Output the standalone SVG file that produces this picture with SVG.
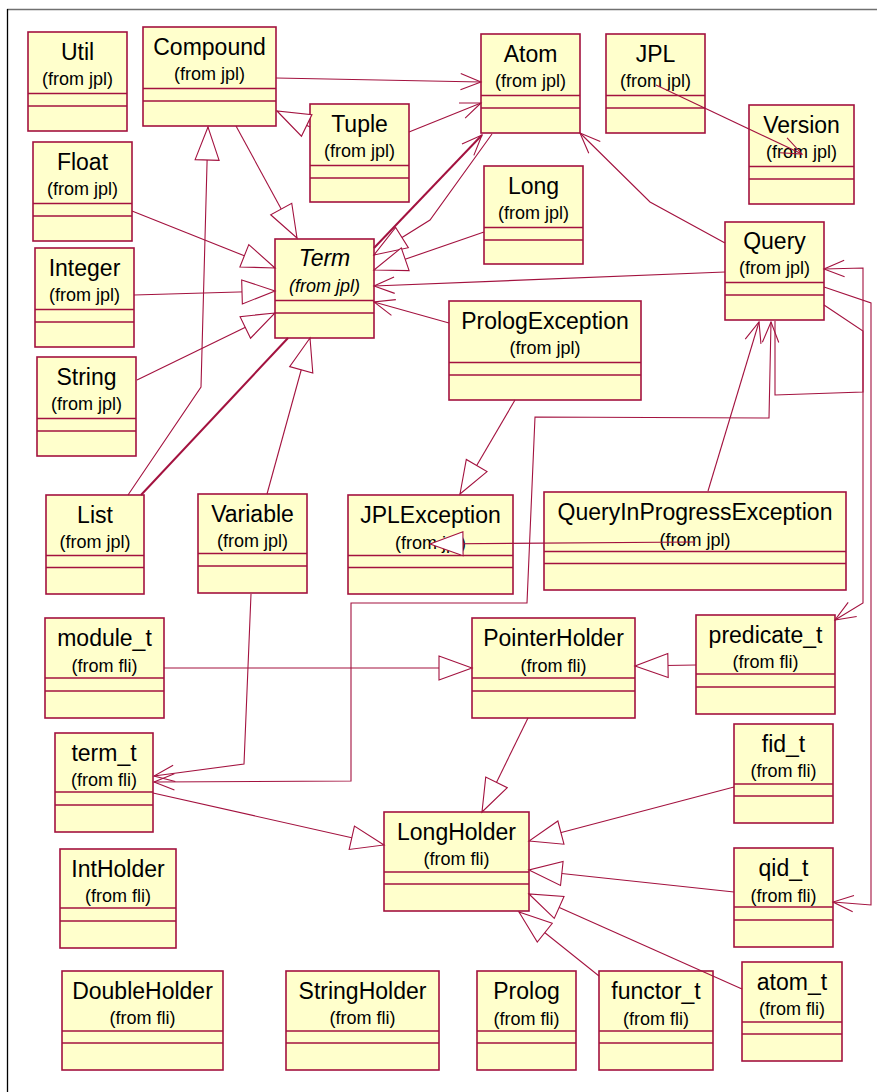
<svg xmlns="http://www.w3.org/2000/svg" width="877" height="1092" viewBox="0 0 877 1092">
  <style>
    .box rect { fill: #ffffcc; stroke: #a3123f; stroke-width: 1.6; }
    .box line { stroke: #a3123f; stroke-width: 1.3; }
    .box text { font-family: "Liberation Sans", Arial, sans-serif; fill: #000; text-anchor: middle; }
    .box .t { font-size: 23px; }
    .box .s { font-size: 18px; }
    .abstract text { font-style: italic; }
    #connectors path { fill: none; stroke: #a3123f; stroke-width: 1.1; }
    #connectors .gen { marker-end: url(#tri); }
    #connectors .assoc { marker-end: url(#open); }
    #connectors .both { marker-start: url(#open); marker-end: url(#open); }
    #connectors .heavy { stroke-width: 2; }
  </style>
  <defs>
    <!-- generalization: hollow triangle -->
    <marker id="tri" markerUnits="userSpaceOnUse" viewBox="-36 -15 38 30" markerWidth="38" markerHeight="30" refX="0" refY="0" orient="auto">
      <path d="M0,0 L-33,-12 L-33,12 Z" fill="#ffffff" stroke="#a3123f" stroke-width="1.1"/>
    </marker>
    <!-- navigable association: open arrowhead -->
    <marker id="open" markerUnits="userSpaceOnUse" viewBox="-24 -11 26 22" markerWidth="26" markerHeight="22" refX="0" refY="0" orient="auto-start-reverse">
      <path d="M-20.4,-8.2 L0,0 L-20.4,8.2" fill="none" stroke="#a3123f" stroke-width="1.1"/>
    </marker>
  </defs>

  <rect x="0" y="0" width="877" height="1092" fill="#ffffff"/>
  <!-- frame -->
  <line x1="7" y1="9.5" x2="877" y2="9.5" stroke="#707070" stroke-width="1.3"/>
  <line x1="7.5" y1="9" x2="7.5" y2="1092" stroke="#000000" stroke-width="1.3"/>

  <!-- classes: title at +27.5, package at +52.5, compartments at +61.5 / +74 -->
  <g id="Util" class="box" transform="translate(28,32)">
    <rect width="99" height="99"/><line x1="0" y1="61.5" x2="99" y2="61.5"/><line x1="0" y1="74" x2="99" y2="74"/>
    <text class="t" x="49.5" y="27.5">Util</text><text class="s" x="49.5" y="52.5">(from jpl)</text>
  </g>
  <g id="Compound" class="box" transform="translate(143,27)">
    <rect width="133" height="99"/><line x1="0" y1="61.5" x2="133" y2="61.5"/><line x1="0" y1="74" x2="133" y2="74"/>
    <text class="t" x="66.5" y="27.5">Compound</text><text class="s" x="66.5" y="52.5">(from jpl)</text>
  </g>
  <g id="Float" class="box" transform="translate(33,142)">
    <rect width="99" height="99"/><line x1="0" y1="61.5" x2="99" y2="61.5"/><line x1="0" y1="74" x2="99" y2="74"/>
    <text class="t" x="49.5" y="27.5">Float</text><text class="s" x="49.5" y="52.5">(from jpl)</text>
  </g>
  <g id="Integer" class="box" transform="translate(35,248)">
    <rect width="99" height="99"/><line x1="0" y1="61.5" x2="99" y2="61.5"/><line x1="0" y1="74" x2="99" y2="74"/>
    <text class="t" x="49.5" y="27.5">Integer</text><text class="s" x="49.5" y="52.5">(from jpl)</text>
  </g>
  <g id="String" class="box" transform="translate(37,357)">
    <rect width="99" height="99"/><line x1="0" y1="61.5" x2="99" y2="61.5"/><line x1="0" y1="74" x2="99" y2="74"/>
    <text class="t" x="49.5" y="27.5">String</text><text class="s" x="49.5" y="52.5">(from jpl)</text>
  </g>
  <g id="Atom" class="box" transform="translate(481,34)">
    <rect width="99" height="99"/><line x1="0" y1="61.5" x2="99" y2="61.5"/><line x1="0" y1="74" x2="99" y2="74"/>
    <text class="t" x="49.5" y="27.5">Atom</text><text class="s" x="49.5" y="52.5">(from jpl)</text>
  </g>
  <g id="Tuple" class="box" transform="translate(310,104)">
    <rect width="99" height="98"/><line x1="0" y1="61.5" x2="99" y2="61.5"/><line x1="0" y1="74" x2="99" y2="74"/>
    <text class="t" x="49.5" y="27.5">Tuple</text><text class="s" x="49.5" y="52.5">(from jpl)</text>
  </g>
  <g id="Long" class="box" transform="translate(484,166)">
    <rect width="99" height="98"/><line x1="0" y1="61.5" x2="99" y2="61.5"/><line x1="0" y1="74" x2="99" y2="74"/>
    <text class="t" x="49.5" y="27.5">Long</text><text class="s" x="49.5" y="52.5">(from jpl)</text>
  </g>
  <g id="JPL" class="box" transform="translate(606,34)">
    <rect width="99" height="99"/><line x1="0" y1="61.5" x2="99" y2="61.5"/><line x1="0" y1="74" x2="99" y2="74"/>
    <text class="t" x="49.5" y="27.5">JPL</text><text class="s" x="49.5" y="52.5">(from jpl)</text>
  </g>
  <g id="Version" class="box" transform="translate(749,105)">
    <rect width="105" height="99"/><line x1="0" y1="61.5" x2="105" y2="61.5"/><line x1="0" y1="74" x2="105" y2="74"/>
    <text class="t" x="52.5" y="27.5">Version</text><text class="s" x="52.5" y="52.5">(from jpl)</text>
  </g>
  <g id="Query" class="box" transform="translate(725,222)">
    <rect width="99" height="98"/><line x1="0" y1="60.5" x2="99" y2="60.5"/><line x1="0" y1="73" x2="99" y2="73"/>
    <text class="t" x="49.5" y="27">Query</text><text class="s" x="49.5" y="51.5">(from jpl)</text>
  </g>
  <g id="Term" class="box abstract" transform="translate(275,239)">
    <rect width="99" height="99"/><line x1="0" y1="61.5" x2="99" y2="61.5"/><line x1="0" y1="74" x2="99" y2="74"/>
    <text class="t" x="49.5" y="26.5">Term</text><text class="s" x="49.5" y="53">(from jpl)</text>
  </g>
  <g id="PrologException" class="box" transform="translate(449,301)">
    <rect width="192" height="99"/><line x1="0" y1="61.5" x2="192" y2="61.5"/><line x1="0" y1="74" x2="192" y2="74"/>
    <text class="t" x="96" y="27.5">PrologException</text><text class="s" x="96" y="52.5">(from jpl)</text>
  </g>
  <g id="List" class="box" transform="translate(46,495)">
    <rect width="98" height="99"/><line x1="0" y1="60.5" x2="98" y2="60.5"/><line x1="0" y1="72.5" x2="98" y2="72.5"/>
    <text class="t" x="49" y="27.5">List</text><text class="s" x="49" y="53">(from jpl)</text>
  </g>
  <g id="Variable" class="box" transform="translate(198,494)">
    <rect width="109" height="99"/><line x1="0" y1="59.5" x2="109" y2="59.5"/><line x1="0" y1="72" x2="109" y2="72"/>
    <text class="t" x="54.5" y="27.5">Variable</text><text class="s" x="54.5" y="53">(from jpl)</text>
  </g>
  <g id="JPLException" class="box" transform="translate(348,495)">
    <rect width="165" height="99"/><line x1="0" y1="60.5" x2="165" y2="60.5"/><line x1="0" y1="72.5" x2="165" y2="72.5"/>
    <text class="t" x="82.5" y="27.5">JPLException</text><text class="s" x="82.5" y="54">(from jpl)</text>
  </g>
  <g id="QueryInProgressException" class="box" transform="translate(544,492)">
    <rect width="302" height="98"/><line x1="0" y1="59.5" x2="302" y2="59.5"/><line x1="0" y1="71.5" x2="302" y2="71.5"/>
    <text class="t" x="151" y="27.5">QueryInProgressException</text><text class="s" x="151" y="54">(from jpl)</text>
  </g>
  <g id="module_t" class="box" transform="translate(45,618)">
    <rect width="119" height="100"/><line x1="0" y1="60" x2="119" y2="60"/><line x1="0" y1="73" x2="119" y2="73"/>
    <text class="t" x="59.5" y="28">module_t</text><text class="s" x="59.5" y="54">(from fli)</text>
  </g>
  <g id="PointerHolder" class="box" transform="translate(472,618)">
    <rect width="163" height="100"/><line x1="0" y1="60" x2="163" y2="60"/><line x1="0" y1="73" x2="163" y2="73"/>
    <text class="t" x="81.5" y="28">PointerHolder</text><text class="s" x="81.5" y="54">(from fli)</text>
  </g>
  <g id="predicate_t" class="box" transform="translate(696,615)">
    <rect width="139" height="99"/><line x1="0" y1="59" x2="139" y2="59"/><line x1="0" y1="72" x2="139" y2="72"/>
    <text class="t" x="69.5" y="28">predicate_t</text><text class="s" x="69.5" y="53">(from fli)</text>
  </g>
  <g id="term_t" class="box" transform="translate(55,733)">
    <rect width="98" height="99"/><line x1="0" y1="59" x2="98" y2="59"/><line x1="0" y1="72" x2="98" y2="72"/>
    <text class="t" x="49" y="27.5">term_t</text><text class="s" x="49" y="52.5">(from fli)</text>
  </g>
  <g id="fid_t" class="box" transform="translate(734,724)">
    <rect width="99" height="99"/><line x1="0" y1="60" x2="99" y2="60"/><line x1="0" y1="72" x2="99" y2="72"/>
    <text class="t" x="49.5" y="28">fid_t</text><text class="s" x="49.5" y="52.5">(from fli)</text>
  </g>
  <g id="LongHolder" class="box" transform="translate(384,812)">
    <rect width="145" height="99"/><line x1="0" y1="60" x2="145" y2="60"/><line x1="0" y1="72" x2="145" y2="72"/>
    <text class="t" x="72.5" y="28">LongHolder</text><text class="s" x="72.5" y="53">(from fli)</text>
  </g>
  <g id="qid_t" class="box" transform="translate(734,848)">
    <rect width="99" height="99"/><line x1="0" y1="59" x2="99" y2="59"/><line x1="0" y1="72" x2="99" y2="72"/>
    <text class="t" x="49.5" y="27.5">qid_t</text><text class="s" x="49.5" y="54">(from fli)</text>
  </g>
  <g id="IntHolder" class="box" transform="translate(60,849)">
    <rect width="116" height="99"/><line x1="0" y1="59" x2="116" y2="59"/><line x1="0" y1="72" x2="116" y2="72"/>
    <text class="t" x="58" y="27.5">IntHolder</text><text class="s" x="58" y="53">(from fli)</text>
  </g>
  <g id="DoubleHolder" class="box" transform="translate(62,971)">
    <rect width="161" height="99"/><line x1="0" y1="60" x2="161" y2="60"/><line x1="0" y1="72" x2="161" y2="72"/>
    <text class="t" x="80.5" y="27.5">DoubleHolder</text><text class="s" x="80.5" y="53">(from fli)</text>
  </g>
  <g id="StringHolder" class="box" transform="translate(286,971)">
    <rect width="153" height="99"/><line x1="0" y1="60" x2="153" y2="60"/><line x1="0" y1="72" x2="153" y2="72"/>
    <text class="t" x="76.5" y="27.5">StringHolder</text><text class="s" x="76.5" y="53">(from fli)</text>
  </g>
  <g id="Prolog" class="box" transform="translate(477,971)">
    <rect width="99" height="99"/><line x1="0" y1="60" x2="99" y2="60"/><line x1="0" y1="72" x2="99" y2="72"/>
    <text class="t" x="49.5" y="28">Prolog</text><text class="s" x="49.5" y="54">(from fli)</text>
  </g>
  <g id="functor_t" class="box" transform="translate(599,971)">
    <rect width="114" height="99"/><line x1="0" y1="60" x2="114" y2="60"/><line x1="0" y1="72" x2="114" y2="72"/>
    <text class="t" x="57" y="28">functor_t</text><text class="s" x="57" y="54">(from fli)</text>
  </g>
  <g id="atom_t" class="box" transform="translate(742,962)">
    <rect width="100" height="99"/><line x1="0" y1="60" x2="100" y2="60"/><line x1="0" y1="72" x2="100" y2="72"/>
    <text class="t" x="50" y="28">atom_t</text><text class="s" x="50" y="53">(from fli)</text>
  </g>

  <!-- relationships -->
  <g id="connectors">
    <path class="assoc" d="M276,78 L481,82"/>
    <path class="gen" d="M310,127 L277,111"/>
    <path class="assoc" d="M409,132 L481,103"/>
    <path class="gen" d="M236,126 L297,238"/>
    <path class="gen" d="M132,211 L275,268"/>
    <path class="gen" d="M134,295 L275,291"/>
    <path class="gen" d="M137,380 L275,313"/>
    <path class="gen" d="M128,495 L201,387 L208,127"/>
    <path class="heavy" d="M141,495 L288,338"/>
    <path class="gen" d="M267,494 L310,338"/>
    <path class="assoc heavy" d="M374,248 L482,135"/>
    <path class="gen" d="M492,134 L430,220 L374,255"/>
    <path class="gen" d="M484,232 L374,270"/>
    <path class="assoc" d="M725,243 L650,202 L580,133"/>
    <path class="assoc" d="M725,272 L374,286"/>
    <path class="assoc" d="M449,323 L374,302"/>
    <path class="gen" d="M515,400 L460,494"/>
    <path class="gen" d="M695,542 L430,544"/>
    <path class="assoc" d="M656,85 L802,154"/>
    <path class="assoc" d="M708,491 L759,322"/>
    <path class="assoc" d="M775,321 L775,395 L863,392 L863,268 L824,269"/>
    <path class="assoc" d="M824,305 L863,331 L863,603 L835,620"/>
    <path class="assoc" d="M824,287 L871,303 L871,905 L833,902"/>
    <path class="both" d="M154,782 L351,781 L351,603 L527,603 L535,417 L769,418 L771,322"/>
    <path class="assoc" d="M251,594 L244,764 L154,776"/>
    <path class="gen" d="M164,668 L472,668"/>
    <path class="gen" d="M696,665 L635,666"/>
    <path class="gen" d="M528,718 L482,812"/>
    <path class="gen" d="M153,793 L384,845"/>
    <path class="gen" d="M734,787 L529,841"/>
    <path class="gen" d="M734,892 L529,870"/>
    <path class="gen" d="M742,989 L529,894"/>
    <path class="gen" d="M599,976 L519,912"/>
  </g>
</svg>
